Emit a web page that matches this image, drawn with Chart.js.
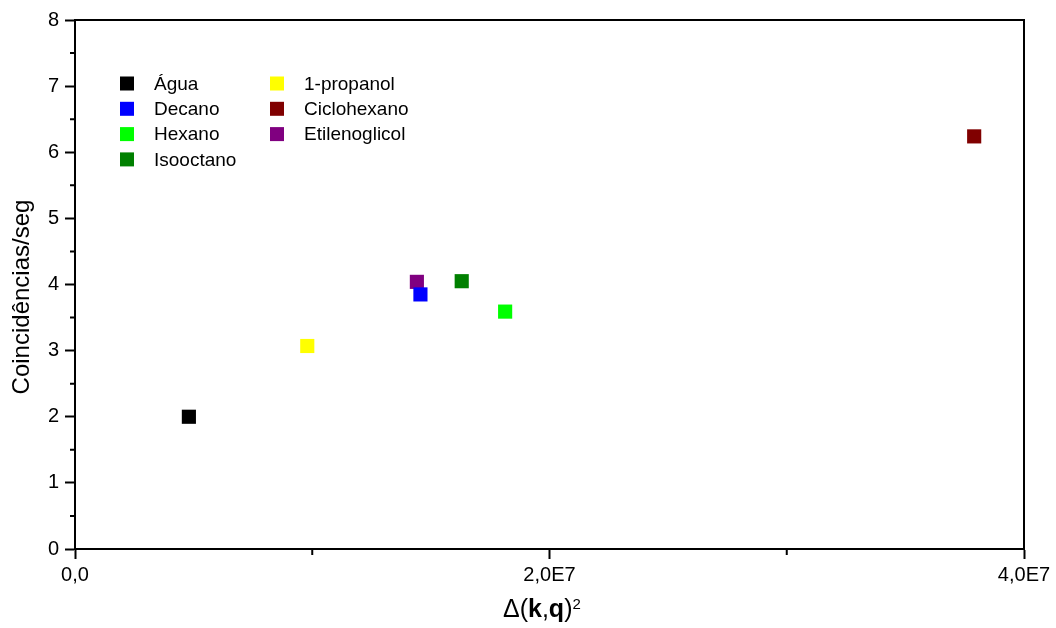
<!DOCTYPE html>
<html>
<head>
<meta charset="utf-8">
<title>Coincidências/seg</title>
<script src="https://cdn.jsdelivr.net/npm/chart.js@4.4.1/dist/chart.umd.min.js"></script>
<style>
	html, body { margin: 0; padding: 0; background: #fff; }
	canvas { display: block; }
</style>
</head>
<body>
<canvas id="scatterChart" width="1056" height="628"></canvas>
<script>
// data
const seriesNames = ['Água', 'Decano', 'Hexano', 'Isooctano', '1-propanol', 'Ciclohexano', 'Etilenoglicol'];
const xValues = [4.80e6, 14.56e6, 18.13e6, 16.30e6, 9.79e6, 37.90e6, 14.41e6];
const yValues = [2.00, 3.85, 3.59, 4.05, 3.07, 6.24, 4.04];
const xTickLabels = ['0,0', '2,0E7', '4,0E7'];
const yTickLabels = ['0', '1', '2', '3', '4', '5', '6', '7', '8'];

const seriesColors = ['#000000', '#0000ff', '#00ff00', '#008000', '#ffff00', '#800000', '#800080'];
const FONT = '"Liberation Sans", Arial, sans-serif';

// minor ticks, top/right frame, legend and axis titles
const extrasPlugin = {
	id: 'extras',
	afterDraw(chart) {
		const { ctx, chartArea: a, scales } = chart;
		ctx.save();
		ctx.strokeStyle = '#000';
		ctx.lineWidth = 2;

		// frame on top and right
		ctx.beginPath();
		ctx.moveTo(a.left, a.top);
		ctx.lineTo(a.right, a.top);
		ctx.lineTo(a.right, a.bottom);
		ctx.stroke();

		// minor ticks
		ctx.beginPath();
		for (let v = 0.5; v < 8; v += 1) {
			const py = scales.y.getPixelForValue(v);
			ctx.moveTo(a.left - 5, py);
			ctx.lineTo(a.left, py);
		}
		[1e7, 3e7].forEach(v => {
			const px = scales.x.getPixelForValue(v);
			ctx.moveTo(px, a.bottom);
			ctx.lineTo(px, a.bottom + 6);
		});
		ctx.stroke();

		// legend in two columns inside the plot
		ctx.font = '19px ' + FONT;
		ctx.textBaseline = 'middle';
		ctx.textAlign = 'left';
		chart.data.datasets.forEach((ds, i) => {
			const col = i < 4 ? 0 : 1;
			const row = i < 4 ? i : i - 4;
			const mx = col === 0 ? 127 : 277;
			const tx = col === 0 ? 154 : 304;
			const my = 83.5 + row * 25.3;
			ctx.fillStyle = ds.backgroundColor;
			ctx.fillRect(mx - 7, my - 7, 14, 14);
			ctx.fillStyle = '#000';
			ctx.fillText(ds.label, tx, my + 1);
		});

		// y title
		ctx.save();
		ctx.translate(29, 297);
		ctx.rotate(-Math.PI / 2);
		ctx.font = '24px ' + FONT;
		ctx.textAlign = 'center';
		ctx.textBaseline = 'alphabetic';
		ctx.fillText('Coincidências/seg', 0, 0);
		ctx.restore();

		// x title: Δ(k,q)² with bold k and q
		const parts = [
			{ t: 'Δ(', f: '25px ' + FONT, dy: 0 },
			{ t: 'k', f: 'bold 25px ' + FONT, dy: 0 },
			{ t: ',', f: '25px ' + FONT, dy: 0 },
			{ t: 'q', f: 'bold 25px ' + FONT, dy: 0 },
			{ t: ')', f: '25px ' + FONT, dy: 0 },
			{ t: '2', f: '15px ' + FONT, dy: -8 }
		];
		ctx.textAlign = 'left';
		ctx.textBaseline = 'alphabetic';
		let x = 503;
		const base = 617;
		parts.forEach(p => {
			ctx.font = p.f;
			ctx.fillText(p.t, x, base + p.dy);
			x += ctx.measureText(p.t).width;
		});
		ctx.restore();
	}
};

document.addEventListener('DOMContentLoaded', () => {
	const ctx = document.getElementById('scatterChart').getContext('2d');

	const datasets = seriesNames.map((name, i) => ({
		label: name,
		data: [{ x: xValues[i], y: yValues[i] }],
		backgroundColor: seriesColors[i],
		borderColor: seriesColors[i],
		pointStyle: 'rect',
		pointRadius: 10,
		pointBorderWidth: 0
	}));

	new Chart(ctx, {
		type: 'scatter',
		data: { datasets },
		options: {
			responsive: false,
			animation: false,
			layout: { padding: { top: 20, right: 32, left: 0, bottom: 0 } },
			plugins: {
				legend: { display: false },
				tooltip: { enabled: false }
			},
			scales: {
				x: {
					type: 'linear',
					min: 0,
					max: 4e7,
					afterFit: (scale) => { scale.height = 79; },
					border: { display: true, color: '#000', width: 2 },
					grid: { drawOnChartArea: false, drawTicks: true, tickLength: 10, tickWidth: 2, tickColor: '#000' },
					ticks: {
						stepSize: 2e7,
						padding: 4,
						color: '#000',
						font: { family: FONT, size: 20 },
						maxRotation: 0,
						callback: (v, i) => xTickLabels[i]
					}
				},
				y: {
					min: 0,
					max: 8,
					afterFit: (scale) => { scale.width = 75; },
					border: { display: true, color: '#000', width: 2 },
					grid: { drawOnChartArea: false, drawTicks: true, tickLength: 10, tickWidth: 2, tickColor: '#000' },
					ticks: {
						stepSize: 1,
						padding: 6,
						color: '#000',
						font: { family: FONT, size: 20 },
						callback: (v, i) => yTickLabels[i]
					}
				}
			}
		},
		plugins: [extrasPlugin]
	});
});
</script>
</body>
</html>
